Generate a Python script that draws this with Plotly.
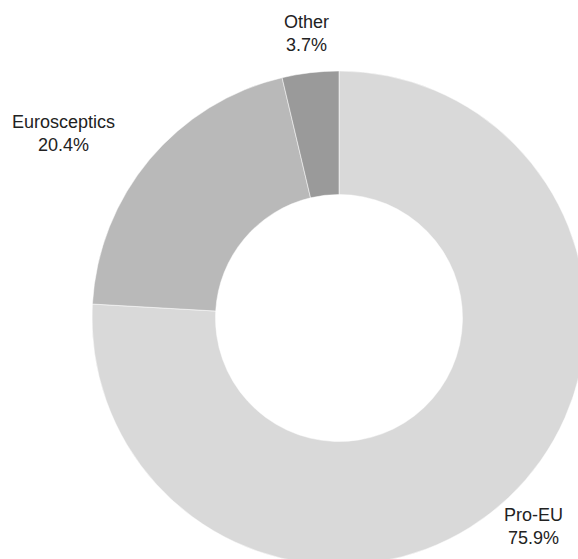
import plotly.graph_objects as go

labels = ["Pro-EU", "Eurosceptics", "Other"]
values = [75.9, 20.4, 3.7]
colors = ["#d9d9d9", "#b9b9b9", "#9a9a9a"]

# label centres in screen pixels
label_px = [(533.5, 526.5), (63, 133.5), (306, 33.5)]

W, H = 640, 640

fig = go.Figure(go.Pie(
    labels=labels,
    values=values,
    hole=0.5,
    sort=False,
    direction="clockwise",
    rotation=0,
    marker=dict(colors=colors, line=dict(color="#ffffff", width=0.5)),
    textinfo="none",
    domain=dict(x=[92 / W, 586 / W], y=[1 - 565 / H, 1 - 71 / H]),
    showlegend=False,
))

total = sum(values)
for lab, val, (px, py) in zip(labels, values, label_px):
    fig.add_annotation(
        x=px / W, y=1 - py / H, xref="paper", yref="paper",
        text=f"{lab}<br>{val / total * 100:.1f}%",
        showarrow=False, xanchor="center", yanchor="middle",
        font=dict(family="Liberation Sans, Arial, sans-serif", size=18, color="#222222"),
    )

fig.update_layout(
    width=W,
    height=H,
    margin=dict(l=0, r=0, t=0, b=0),
    paper_bgcolor="#ffffff",
    plot_bgcolor="#ffffff",
    font=dict(family="Liberation Sans, Arial, sans-serif"),
)

fig.write_html(
    "out.html",
    post_script="document.body.style.margin='0';document.body.style.overflow='hidden';document.documentElement.style.overflow='hidden';",
)
